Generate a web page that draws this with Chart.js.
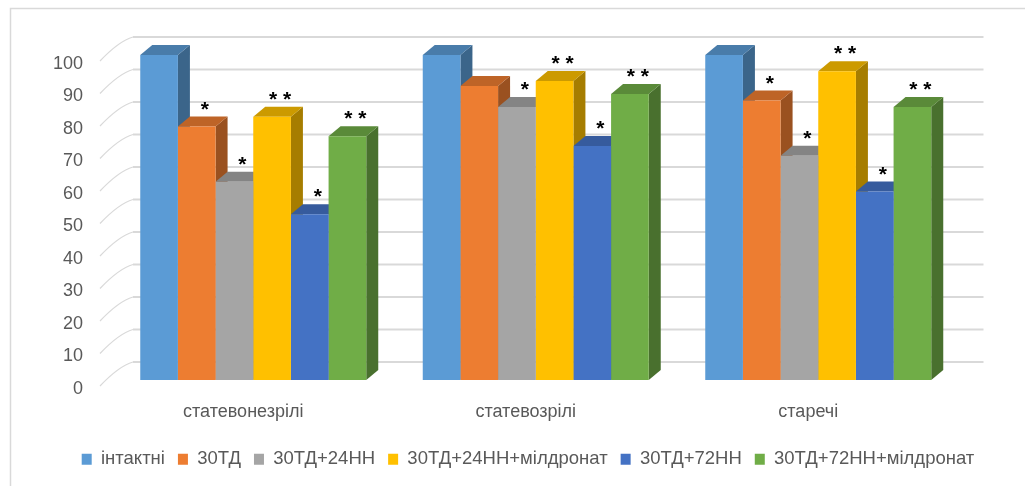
<!DOCTYPE html>
<html>
<head>
<meta charset="utf-8">
<script src="https://cdn.jsdelivr.net/npm/chart.js@4"></script>
<style>
  body { margin: 0; background: #fff; }
  canvas { display: block; }
</style>
</head>
<body>
<canvas id="chart3d" width="1025" height="486"></canvas>
<script>
// data
const categories = ['статевонезрілі', 'статевозрілі', 'старечі'];
const seriesNames = ['інтактні', '30ТД', '30ТД+24НН', '30ТД+24НН+мілдронат', '30ТД+72НН', '30ТД+72НН+мілдронат'];
const intact = [100, 100, 100];
const td30 = [78, 90.5, 86];
const td24 = [61, 84, 69];
const td24mil = [81, 92, 95];
const td72 = [51, 72, 58];
const td72mil = [75, 88, 84];
// significance marks over bars
const starsIntact = ['', '', ''];
const starsTd30 = ['*', '', '*'];
const starsTd24 = ['*', '*', '*'];
const starsTd24mil = ['**', '**', '**'];
const starsTd72 = ['*', '*', '*'];
const starsTd72mil = ['**', '**', '**'];
const yTicks = [0, 10, 20, 30, 40, 50, 60, 70, 80, 90, 100];

const colors = ['#5B9BD5', '#ED7D31', '#A5A5A5', '#FFC000', '#4472C4', '#70AD47'];
const values = [intact, td30, td24, td24mil, td72, td72mil];
const stars = [starsIntact, starsTd30, starsTd24, starsTd24mil, starsTd72, starsTd72mil];

const DX = 12, DY = -10; // bar depth
const FONT = "'Liberation Sans', Arial, sans-serif";

function shade(hex, k) {
  const n = parseInt(hex.slice(1), 16);
  const r = Math.round(((n >> 16) & 255) * k);
  const g = Math.round(((n >> 8) & 255) * k);
  const b = Math.round((n & 255) * k);
  return 'rgb(' + r + ',' + g + ',' + b + ')';
}

const threeD = {
  id: 'threeD',
  beforeDraw(chart) {
    const ctx = chart.ctx;
    ctx.save();
    ctx.fillStyle = '#fff';
    ctx.fillRect(0, 0, chart.width, chart.height);
    ctx.strokeStyle = '#d9d9d9';
    ctx.lineWidth = 1.5;
    ctx.strokeRect(10.5, 8.5, 1100, 600);
    ctx.restore();
  },
  beforeDatasetsDraw(chart) {
    const ctx = chart.ctx, y = chart.scales.y, area = chart.chartArea;
    const wallL = area.left + 21, wallR = area.right + 24;
    ctx.save();
    // back wall gridlines + slanted ticks from the front axis
    ctx.strokeStyle = '#d9d9d9';
    yTicks.forEach(function (v) {
      const py = y.getPixelForValue(v);
      const wy = py - 18, fy = py + 6;
      ctx.lineWidth = 2;
      ctx.beginPath();
      ctx.moveTo(wallL, wy);
      ctx.lineTo(wallR, wy);
      ctx.stroke();
      ctx.lineWidth = 1.2;
      ctx.beginPath();
      ctx.moveTo(wallL - 33, fy);
      ctx.quadraticCurveTo(wallL - 14, wy + 4, wallL, wy);
      ctx.stroke();
    });
    // side and top faces, left to right; front faces are the normal bars
    chart.data.datasets.forEach(function (ds, i) {
      const col = colors[i];
      chart.getDatasetMeta(i).data.forEach(function (bar) {
        const p = bar.getProps(['x', 'y', 'base', 'width'], true);
        const l = p.x - p.width / 2, r = p.x + p.width / 2;
        ctx.fillStyle = shade(col, 0.65);
        ctx.beginPath();
        ctx.moveTo(r, p.y);
        ctx.lineTo(r + DX, p.y + DY);
        ctx.lineTo(r + DX, p.base + DY);
        ctx.lineTo(r, p.base);
        ctx.closePath();
        ctx.fill();
        ctx.fillStyle = shade(col, 0.8);
        ctx.beginPath();
        ctx.moveTo(l, p.y);
        ctx.lineTo(r, p.y);
        ctx.lineTo(r + DX, p.y + DY);
        ctx.lineTo(l + DX, p.y + DY);
        ctx.closePath();
        ctx.fill();
      });
    });
    ctx.restore();
  },
  afterDatasetsDraw(chart) {
    const ctx = chart.ctx;
    ctx.save();
    ctx.fillStyle = '#000';
    ctx.font = 'bold 21px ' + FONT;
    ctx.textAlign = 'center';
    ctx.textBaseline = 'alphabetic';
    const m = ctx.measureText('*');
    const off = (m.actualBoundingBoxAscent - m.actualBoundingBoxDescent) / 2;
    chart.data.datasets.forEach(function (ds, i) {
      chart.getDatasetMeta(i).data.forEach(function (bar, j) {
        const s = stars[i][j];
        if (!s) return;
        ctx.fillText(s.split('').join(' '), bar.x + 8, bar.y - 21 + off);
      });
    });
    ctx.restore();
  }
};

const datasets = seriesNames.map(function (name, i) {
  return {
    label: name,
    data: values[i],
    backgroundColor: colors[i],
    borderWidth: 0,
    clip: false
  };
});

new Chart('chart3d', {
  type: 'bar',
  data: { labels: categories, datasets: datasets },
  plugins: [threeD],
  options: {
    responsive: false,
    devicePixelRatio: 1,
    animation: false,
    layout: { padding: { top: 55, right: 0, bottom: 7.5, left: 31 } },
    datasets: { bar: { categoryPercentage: 0.8, barPercentage: 1.0 } },
    plugins: {
      tooltip: { enabled: false },
      legend: {
        position: 'bottom',
        labels: {
          boxWidth: 10,
          boxHeight: 11,
          padding: 13,
          color: '#595959',
          font: { family: FONT, size: 18.5 }
        }
      }
    },
    scales: {
      x: {
        grid: { display: false, drawTicks: false },
        border: { display: false },
        ticks: { color: '#595959', font: { family: FONT, size: 18 }, padding: 21, labelOffset: -10 },
        afterFit(scale) { scale.height = 57; }
      },
      y: {
        min: 0,
        max: 100,
        grid: { display: false, drawTicks: false },
        border: { display: false },
        ticks: { stepSize: 10, color: '#595959', font: { family: FONT, size: 18 }, padding: 29, labelOffset: 9 },
        afterFit(scale) { scale.width = 81; }
      },
      // empty spacer on the right, keeps the legend centred like the original
      y2: {
        position: 'right',
        grid: { display: false, drawTicks: false },
        border: { display: false },
        ticks: { display: false },
        afterFit(scale) { scale.width = 65.5; }
      }
    }
  }
});
</script>
</body>
</html>
